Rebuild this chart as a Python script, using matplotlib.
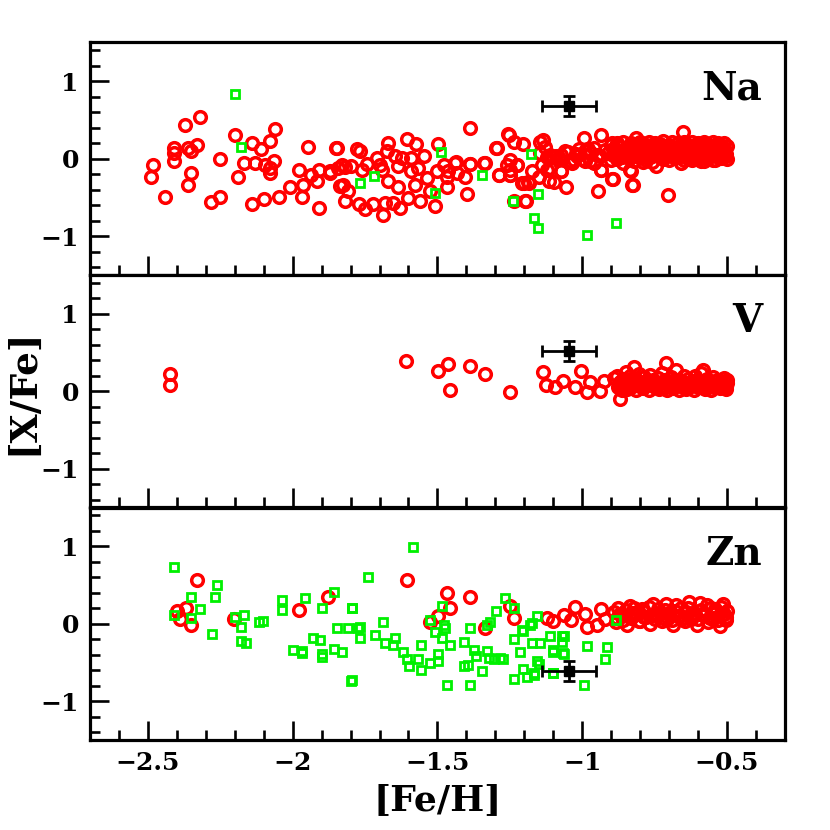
import matplotlib
matplotlib.use("Agg")
import matplotlib.pyplot as plt
from matplotlib.ticker import MultipleLocator

# ---------------- data ----------------
# Na panel: red circles (scattered part)
na_red_x = [-2.321, -2.371, -2.41, -2.41, -2.41, -2.362, -2.35, -2.33, -2.483, -2.49,
            -2.35, -2.362, -2.44, -2.283, -2.25, -2.25, -2.20, -2.19, -2.168, -2.139,
            -2.11, -2.079, -2.06, -2.13, -2.096, -2.079, -2.065, -2.079, -2.139, -2.10,
            -2.048, -1.948, -1.85, -1.977, -2.01, -1.964, -1.969, -1.91, -1.935, -1.917,
            -1.908, -1.87, -1.843, -1.837,
            -1.848, -1.779, -1.767, -1.67, -1.606, -1.575, -1.499, -1.387, -1.256, -1.298,
            -1.237, -1.205, -1.871, -1.831, -1.82, -1.80, -1.762, -1.744, -1.71, -1.698,
            -1.692, -1.675, -1.646, -1.635, -1.624, -1.59, -1.548, -1.566, -1.59, -1.537,
            -1.502, -1.479, -1.462, -1.467, -1.439, -1.433, -1.404, -1.387, -1.338, -1.287,
            -1.248, -1.26, -1.225, -1.202, -1.185, -1.145, -1.827, -1.808, -1.82, -1.77,
            -1.75, -1.722, -1.687, -1.681, -1.652, -1.629, -1.67, -1.635, -1.60, -1.577,
            -1.56, -1.525, -1.508, -1.467, -1.398, -1.196,
            -1.435, -1.387, -1.337, -1.289, -1.254, -1.294, -1.251, -1.251, -1.225, -1.248,
            -1.208, -1.189, -1.237, -1.193, -1.135, -1.11, -1.075, -1.139, -1.11, -1.173,
            -1.15, -1.116, -1.099, -1.056, -1.073, -1.041, -0.995, -0.935, -0.897, -0.96,
            -0.989, -1.018, -0.972, -0.935, -0.897, -0.945, -0.827, -0.833, -0.789, -0.744,
            -0.704, -0.652, -0.816, -0.894, -0.824, -0.934, -0.836, -1.075, -1.12, -1.035,
            -0.989, -1.10, -1.145, -1.06, -1.02, -0.98, -1.09, -1.13, -1.00, -0.95,
            -1.08, -1.05, -1.03, -0.97, -0.94, -0.92, -1.01, -0.96, -1.12, -0.91]
na_red_y = [0.54, 0.43, 0.14, 0.07, -0.03, 0.14, 0.10, 0.18, -0.08, -0.24,
            -0.18, -0.34, -0.49, -0.56, -0.50, 0.0, 0.30, -0.24, -0.05, 0.20,
            0.125, 0.23, 0.38, -0.06, -0.08, -0.12, -0.03, -0.18, -0.58, -0.52,
            -0.50, 0.155, 0.14, -0.15, -0.37, -0.34, -0.49, -0.64, -0.21, -0.29,
            -0.14, -0.185, -0.12, -0.35,
            0.14, 0.125, 0.095, 0.20, 0.25, 0.19, 0.19, 0.40, 0.32, 0.145,
            0.22, 0.19, -0.16, -0.08, -0.11, -0.10, -0.14, -0.07, 0.01, -0.08,
            -0.14, 0.095, 0.03, -0.10, 0.01, 0.01, 0.03, -0.12, -0.16, -0.25,
            -0.16, -0.08, -0.16, -0.23, -0.05, -0.185, -0.23, -0.07, -0.05, -0.21,
            -0.21, -0.08, -0.08, -0.31, -0.31, 0.22, -0.34, -0.42, -0.54, -0.58,
            -0.645, -0.59, -0.72, -0.57, -0.57, -0.64, -0.29, -0.36, -0.51, -0.34,
            -0.55, -0.42, -0.61, -0.37, -0.455, -0.55,
            -0.04, -0.07, -0.055, -0.21, 0.31, 0.14, -0.01, -0.14, -0.08, -0.21,
            -0.31, -0.30, -0.55, -0.55, 0.24, 0.05, 0.05, -0.08, -0.12, -0.16,
            -0.23, -0.29, -0.30, -0.36, -0.155, -0.035, 0.27, 0.30, 0.20, 0.14,
            0.095, 0.03, -0.035, -0.14, -0.26, -0.42, -0.335, -0.155, -0.04, -0.10,
            -0.47, 0.35, 0.27, -0.26, -0.34, -0.14, -0.14, -0.16, -0.14, -0.055,
            -0.03, 0.02, 0.08, 0.10, 0.06, 0.12, 0.04, 0.15, 0.00, 0.05,
            0.01, 0.09, -0.02, 0.07, 0.03, 0.11, 0.13, -0.06, 0.02, 0.08]

# Na panel: red circles (dense metal-rich band)
na_band_x = [-0.90, -0.89, -0.88, -0.87, -0.86, -0.85, -0.84, -0.83, -0.82, -0.81,
             -0.80, -0.79, -0.78, -0.77, -0.76, -0.75, -0.74, -0.73, -0.72, -0.71,
             -0.70, -0.69, -0.68, -0.67, -0.66, -0.65, -0.64, -0.63, -0.62, -0.61,
             -0.60, -0.59, -0.58, -0.57, -0.56, -0.55, -0.54, -0.53, -0.52, -0.51,
             -0.50,
             -0.895, -0.885, -0.875, -0.865, -0.855, -0.845, -0.835, -0.825, -0.815, -0.805,
             -0.795, -0.785, -0.775, -0.765, -0.755, -0.745, -0.735, -0.725, -0.715, -0.705,
             -0.695, -0.685, -0.675, -0.665, -0.655, -0.645, -0.635, -0.625, -0.615, -0.605,
             -0.595, -0.585, -0.575, -0.565, -0.555, -0.545, -0.535, -0.525, -0.515, -0.505,
             -0.90, -0.88, -0.86, -0.84, -0.82, -0.80, -0.78, -0.76, -0.74, -0.72,
             -0.70, -0.68, -0.66, -0.64, -0.62, -0.60, -0.58, -0.56, -0.54, -0.52,
             -0.50, -0.51, -0.53, -0.55, -0.57, -0.59, -0.61, -0.63, -0.65, -0.67,
             -0.893, -0.872, -0.853, -0.831, -0.812, -0.793, -0.771, -0.752, -0.733, -0.714,
             -0.692, -0.673, -0.652, -0.633, -0.611, -0.592, -0.573, -0.551, -0.532, -0.512,
             -0.882, -0.861, -0.842, -0.821, -0.803, -0.781, -0.762, -0.741, -0.722, -0.703,
             -0.681, -0.662, -0.641, -0.622, -0.603, -0.581, -0.562, -0.541, -0.522, -0.503]
na_band_y = [0.18, 0.12, 0.20, 0.15, 0.22, 0.10, 0.17, 0.20, 0.14, 0.19,
             0.21, 0.13, 0.18, 0.22, 0.16, 0.20, 0.12, 0.19, 0.23, 0.15,
             0.18, 0.21, 0.14, 0.20, 0.17, 0.22, 0.19, 0.13, 0.21, 0.18,
             0.20, 0.16, 0.22, 0.19, 0.15, 0.21, 0.18, 0.20, 0.17, 0.20,
             0.16,
             0.05, 0.08, 0.02, 0.10, 0.06, 0.09, 0.03, 0.07, 0.11, 0.04,
             0.08, 0.06, 0.10, 0.02, 0.09, 0.05, 0.11, 0.07, 0.03, 0.10,
             0.06, 0.08, 0.12, 0.04, 0.09, 0.07, 0.11, 0.05, 0.08, 0.10,
             0.06, 0.09, 0.04, 0.12, 0.07, 0.10, 0.05, 0.08, 0.11, 0.06,
             -0.02, 0.00, -0.05, 0.01, -0.03, 0.02, -0.01, -0.04, 0.03, 0.00,
             -0.02, 0.01, -0.05, 0.02, -0.01, 0.00, -0.03, 0.03, -0.02, 0.01,
             0.00, 0.04, 0.02, -0.01, 0.01, -0.03, 0.02, 0.00, -0.02, 0.03,
             0.13, 0.15, 0.12, 0.14, 0.16, 0.12, 0.15, 0.13, 0.14, 0.16,
             0.12, 0.15, 0.13, 0.16, 0.14, 0.12, 0.15, 0.13, 0.16, 0.14,
             0.04, 0.02, 0.05, 0.03, 0.06, 0.02, 0.04, 0.05, 0.03, 0.06,
             0.02, 0.04, 0.05, 0.03, 0.04, 0.06, 0.02, 0.05, 0.03, 0.04]

# Na panel: green squares
na_grn_x = [-2.20, -2.179, -1.767, -1.718, -1.487, -1.508, -1.346, -1.24, -1.177, -1.154,
            -1.165, -1.154, -0.985, -0.885]
na_grn_y = [0.835, 0.155, -0.31, -0.22, 0.087, -0.44, -0.21, -0.55, 0.065, -0.46,
            -0.76, -0.90, -0.99, -0.83]

# V panel: red circles
v_red_x = [-2.423, -2.423, -1.607, -1.498, -1.464, -1.456, -1.387, -1.337, -1.248, -1.135,
           -1.124, -1.093, -1.065, -1.024, -1.005, -0.985, -0.972, -0.94, -0.926, -0.892,
           -0.880, -0.875, -0.870, -0.868, -0.864, -0.860, -0.855, -0.850, -0.845, -0.840,
           -0.835, -0.830, -0.825, -0.822, -0.815, -0.810, -0.805, -0.800, -0.795, -0.790,
           -0.785, -0.780, -0.775, -0.770, -0.765, -0.760, -0.755, -0.750, -0.745, -0.740,
           -0.735, -0.730, -0.725, -0.720, -0.715, -0.712, -0.708, -0.700, -0.695, -0.690,
           -0.685, -0.680, -0.675, -0.670, -0.665, -0.660, -0.655, -0.650, -0.645, -0.640,
           -0.635, -0.630, -0.625, -0.620, -0.615, -0.610, -0.605, -0.600, -0.595, -0.590,
           -0.585, -0.583, -0.580, -0.575, -0.570, -0.565, -0.560, -0.555, -0.550, -0.545,
           -0.540, -0.535, -0.530, -0.525, -0.520, -0.515, -0.510, -0.505, -0.500, -0.500,
           -0.872, -0.852, -0.832, -0.812, -0.792, -0.772, -0.752, -0.732, -0.712, -0.692,
           -0.672, -0.652, -0.632, -0.612, -0.592, -0.572, -0.552, -0.532, -0.512, -0.502]
v_red_y = [0.22, 0.085, 0.39, 0.265, 0.355, 0.01, 0.33, 0.22, -0.015, 0.25,
           0.085, 0.06, 0.13, 0.06, 0.265, -0.01, 0.115, 0.00, 0.13, 0.17,
           0.20, 0.05, 0.12, -0.10, 0.02, 0.16, 0.08, 0.25, 0.03, 0.14,
           0.19, 0.06, 0.10, 0.31, 0.01, 0.15, 0.22, 0.07, 0.11, 0.04,
           0.18, 0.09, 0.13, 0.02, 0.21, 0.08, 0.15, 0.05, 0.12, 0.17,
           0.03, 0.10, 0.24, 0.06, 0.14, 0.37, 0.01, 0.11, 0.18, 0.08,
           0.04, 0.15, 0.28, 0.09, 0.02, 0.13, 0.07, 0.20, 0.11, 0.03,
           0.16, 0.06, 0.12, 0.09, 0.01, 0.19, 0.14, 0.05, 0.10, 0.23,
           0.07, 0.28, 0.13, 0.03, 0.16, 0.08, 0.11, 0.02, 0.18, 0.06,
           0.13, 0.09, 0.15, 0.04, 0.12, 0.07, 0.17, 0.05, 0.10, 0.14,
           0.09, 0.06, 0.12, 0.08, 0.05, 0.10, 0.07, 0.11, 0.06, 0.09,
           0.12, 0.05, 0.08, 0.10, 0.07, 0.04, 0.09, 0.06, 0.08, 0.03]

# Zn panel: red circles
zn_red_x = [-2.329, -2.37, -2.398, -2.39, -2.35, -2.203, -1.979, -1.877, -1.606, -1.467,
            -1.456, -1.387, -1.497, -1.527, -1.335, -1.248, -1.237, -1.121, -1.10, -1.064,
            -1.04, -1.024, -0.985, -0.99, -0.948, -0.934, -0.92,
            -0.89, -0.88, -0.87, -0.86, -0.85, -0.84, -0.83, -0.82, -0.81, -0.80,
            -0.79, -0.78, -0.77, -0.76, -0.75, -0.74, -0.73, -0.72, -0.71, -0.70,
            -0.69, -0.68, -0.67, -0.66, -0.65, -0.64, -0.63, -0.62, -0.61, -0.60,
            -0.59, -0.58, -0.57, -0.56, -0.55, -0.54, -0.53, -0.52, -0.51, -0.50,
            -0.885, -0.865, -0.845, -0.825, -0.805, -0.785, -0.765, -0.745, -0.725, -0.705,
            -0.685, -0.665, -0.645, -0.625, -0.605, -0.585, -0.565, -0.545, -0.525, -0.505,
            -0.875, -0.835, -0.795, -0.755, -0.715, -0.675, -0.635, -0.595, -0.555, -0.515,
            -0.862, -0.822, -0.782, -0.742, -0.702, -0.662, -0.622, -0.582, -0.542, -0.502]
zn_red_y = [0.56, 0.21, 0.16, 0.065, -0.01, 0.065, 0.18, 0.34, 0.57, 0.40,
            0.20, 0.34, 0.095, 0.02, -0.055, 0.23, 0.08, 0.075, 0.03, 0.115,
            0.05, 0.22, -0.04, 0.12, -0.02, 0.19, 0.06,
            0.15, 0.08, 0.12, 0.05, 0.18, 0.10, 0.07, 0.20, 0.13, 0.04,
            0.16, 0.09, 0.22, 0.11, 0.06, 0.19, 0.14, 0.08, 0.25, 0.12,
            0.05, 0.17, 0.10, 0.21, 0.07, 0.15, 0.28, 0.09, 0.13, 0.06,
            0.18, 0.11, 0.24, 0.08, 0.14, 0.19, 0.05, 0.22, 0.12, 0.17,
            0.02, 0.11, -0.01, 0.14, 0.03, 0.09, 0.00, 0.13, 0.04, 0.07,
            -0.02, 0.10, 0.03, 0.06, -0.01, 0.12, 0.02, 0.08, -0.03, 0.05,
            0.20, 0.23, 0.19, 0.26, 0.18, 0.24, 0.21, 0.27, 0.20, 0.25,
            0.10, 0.13, 0.09, 0.12, 0.14, 0.10, 0.13, 0.11, 0.14, 0.09]

# Zn panel: green squares
zn_grn_x = [-2.41, -2.26, -2.35, -2.269, -2.321, -2.41, -2.35, -2.28, -2.20, -2.169,
            -2.179, -2.179, -2.16, -2.116, -2.104, -2.038, -2.038, -1.958, -1.898, -1.857,
            -1.796, -1.848, -1.808, -1.773, -1.931, -1.906, -2.0, -1.969, -1.969, -1.897,
            -1.857, -1.829, -1.897, -1.798,
            -1.586, -1.739, -1.794, -1.767, -1.767, -1.716, -1.689, -1.681, -1.646, -1.652,
            -1.618, -1.606, -1.597, -1.566, -1.557, -1.557, -1.525, -1.497, -1.499, -1.794,
            -1.467, -1.387, -1.527, -1.508, -1.485, -1.479, -1.473, -1.485, -1.456, -1.408,
            -1.387, -1.375, -1.366, -1.41, -1.393, -1.346, -1.329, -1.323, -1.306, -1.283,
            -1.272, -1.329, -1.317, -1.297, -1.266, -1.237, -1.237, -1.216, -1.237, -1.205,
            -1.205, -1.179, -1.174, -1.168, -1.156, -1.156, -1.147, -1.11, -1.10, -1.07,
            -1.067, -1.10, -1.174, -1.208, -1.064, -1.069, -1.10, -1.064, -0.985, -0.914,
            -0.923, -0.995, -0.885, -1.168, -1.10, -1.15, -1.19]
zn_grn_y = [0.73, 0.50, 0.345, 0.345, 0.19, 0.11, 0.07, -0.13, 0.085, 0.11,
            -0.04, -0.22, -0.25, 0.02, 0.03, 0.31, 0.18, 0.33, 0.21, 0.41,
            0.21, -0.055, -0.055, -0.055, -0.185, -0.21, -0.335, -0.35, -0.38, -0.39,
            -0.32, -0.365, -0.43, -0.735,
            0.99, 0.60, 0.21, -0.04, -0.185, -0.14, 0.02, -0.25, -0.185, -0.27,
            -0.36, -0.46, -0.55, -0.46, -0.59, -0.27, -0.51, -0.39, -0.485, -0.72,
            -0.79, -0.79, 0.05, -0.11, 0.225, -0.01, -0.055, -0.185, -0.27, -0.23,
            -0.055, -0.335, -0.41, -0.54, -0.53, -0.61, -0.35, -0.44, -0.46, -0.44,
            -0.46, -0.01, 0.02, 0.17, 0.33, 0.20, -0.19, -0.365, -0.71, -0.58,
            -0.09, -0.01, -0.25, -0.64, -0.485, 0.095, -0.25, -0.16, -0.335, -0.16,
            -0.38, -0.64, 0.01, -0.08, -0.16, -0.23, -0.36, -0.39, -0.29, -0.305,
            -0.46, -0.79, 0.05, -0.66, -0.64, -0.52, -0.69]

# typical error bars (x, y, xerr, yerr) per panel
err_x = [-1.045, -1.045, -1.045]
err_y = [0.68, 0.52, -0.61]
err_xe = [0.093, 0.093, 0.093]
err_ye = [0.13, 0.13, 0.13]

panel_names = ["Na", "V", "Zn"]

# ---------------- plot ----------------
plt.rcParams['font.family'] = ['DejaVu Serif']
plt.rcParams['font.weight'] = 'bold'
plt.rcParams['axes.linewidth'] = 2.3

fig = plt.figure(figsize=(8.3, 8.3), dpi=100)
left, width, ph = 0.1084, 0.8373, 0.2801
bottoms = [0.6687, 0.3886, 0.1084]

reds = [(na_red_x + na_band_x, na_red_y + na_band_y), (v_red_x, v_red_y), (zn_red_x, zn_red_y)]
greens = [(na_grn_x, na_grn_y), ([], []), (zn_grn_x, zn_grn_y)]

axes = []
for i in range(3):
    ax = fig.add_axes([left, bottoms[i], width, ph])
    axes.append(ax)
    rx, ry = reds[i]
    ax.plot(rx, ry, 'o', ms=8.4, mfc='none', mec='#ff0000', mew=2.5, zorder=2)
    gx, gy = greens[i]
    if gx:
        ax.plot(gx, gy, 's', ms=6.0, mfc='none', mec='#00f000', mew=2.0, zorder=3)
    ax.errorbar([err_x[i]], [err_y[i]], xerr=[err_xe[i]], yerr=[err_ye[i]], fmt='s',
                color='black', ms=7.5, elinewidth=2.0, capsize=4.5, capthick=2.0, zorder=5)
    ax.set_xlim(-2.7, -0.3)
    ax.set_ylim(-1.5, 1.5)
    ax.xaxis.set_major_locator(MultipleLocator(0.5))
    ax.xaxis.set_minor_locator(MultipleLocator(0.1))
    ax.yaxis.set_major_locator(MultipleLocator(1.0))
    ax.yaxis.set_minor_locator(MultipleLocator(0.2))
    ax.tick_params(which='major', direction='in', length=14, width=1.9,
                   top=False, right=False, labelsize=18, pad=8)
    ax.tick_params(which='minor', direction='in', length=7, width=1.9,
                   top=False, right=False)
    ax.set_yticks([-1, 0, 1])
    ax.set_yticklabels(['\u22121', '0', '1'])
    if i < 2:
        ax.set_xticklabels([])
    else:
        ax.set_xticks([-2.5, -2, -1.5, -1, -0.5])
        ax.set_xticklabels(['\u22122.5', '\u22122', '\u22121.5', '\u22121', '\u22120.5'])
    for lab in ax.get_xticklabels() + ax.get_yticklabels():
        lab.set_fontweight('bold')
    ax.text(0.967, 0.80, panel_names[i], transform=ax.transAxes, ha='right', va='center',
            fontsize=28, fontweight='bold')

axes[2].set_xlabel('[Fe/H]', fontsize=26, fontweight='bold', labelpad=6)
fig.text(0.027, 0.528, '[X/Fe]', rotation=90, ha='center', va='center',
         fontsize=27, fontweight='bold')

fig.savefig('out.png', dpi=100)
